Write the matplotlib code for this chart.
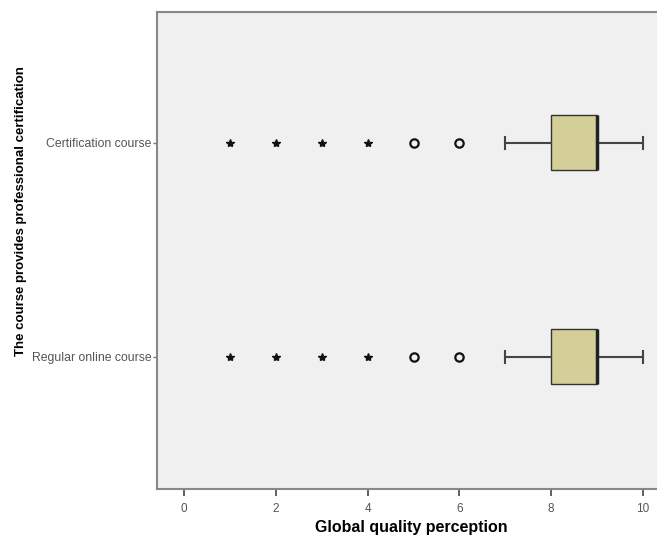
import matplotlib.pyplot as plt

plt.rcParams['font.family'] = ['Liberation Sans', 'DejaVu Sans']

# groups, bottom to top
groups = ['Regular online course', 'Certification course']
q1 = [8, 8]
median = [9, 9]
q3 = [9, 9]
whisker_low = [7, 7]
whisker_high = [10, 10]
# outliers: SPSS marks extreme ones with a star, mild ones with a circle
extreme = [[1, 2, 3, 4], [1, 2, 3, 4]]
mild = [[5, 6], [5, 6]]
x_ticks = [0, 2, 4, 6, 8, 10]

stats = []
for i, g in enumerate(groups):
    stats.append({'label': g, 'q1': q1[i], 'med': median[i], 'q3': q3[i],
                  'whislo': whisker_low[i], 'whishi': whisker_high[i], 'fliers': []})

fig = plt.figure(figsize=(6.57, 5.37), dpi=100)
ax = fig.add_axes([157 / 657, 1 - 489 / 537, 509 / 657, 477 / 537])
ax.set_facecolor('#F0F0F0')

pos = [1, 2]
ax.bxp(stats, positions=pos, vert=False, widths=0.257, patch_artist=True,
       showfliers=False, capwidths=0.06,
       boxprops=dict(facecolor='#D4CF98', edgecolor='#333333', linewidth=1),
       medianprops=dict(color='#222222', linewidth=2.5),
       whiskerprops=dict(color='#444444', linewidth=1.5),
       capprops=dict(color='#444444', linewidth=1.5))

for i, p in enumerate(pos):
    ax.plot(extreme[i], [p] * len(extreme[i]), linestyle='none', marker='*',
            markersize=6, color='#111111')
    ax.plot(mild[i], [p] * len(mild[i]), linestyle='none', marker='o',
            markersize=6, markerfacecolor='none', markeredgecolor='#111111',
            markeredgewidth=1.6)

ax.set_xlim(-0.588, 10.5)
ax.set_ylim(0.383, 2.612)
ax.set_xticks(x_ticks)
ax.set_xticklabels([str(t) for t in x_ticks], fontsize=8.5, color='#555555')
ax.set_yticks(pos)
ax.set_yticklabels(groups, fontsize=8.8, color='#555555')
ax.tick_params(axis='x', length=5, width=1.2, color='#444444', pad=5)
ax.tick_params(axis='y', length=3, width=1, color='#777777', pad=1)

for s in ax.spines.values():
    s.set_color('#888888')
    s.set_linewidth(1.5)

ax.set_xlabel('Global quality perception', fontsize=11.5, fontweight='bold', labelpad=4)
fig.text(21 / 657, 1 - 211 / 537, 'The course provides professional certification',
         rotation=90, fontsize=9.5, fontweight='bold', ha='center', va='center')

fig.savefig('out.png', dpi=100)
